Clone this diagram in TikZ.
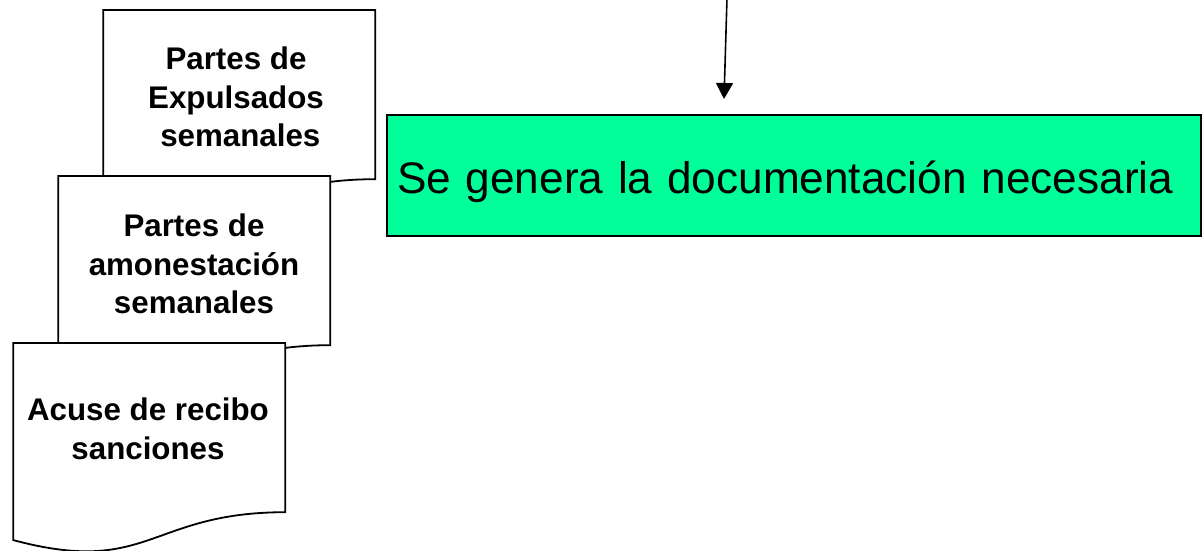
\documentclass[tikz,border=0pt]{standalone}
\usepackage{fontspec}
\setmainfont{Liberation Sans}
\usetikzlibrary{arrows.meta}
\definecolor{gengreen}{RGB}{0,255,153}
\tikzset{
  docshape/.style={draw=black, fill=white, line width=1.8pt, line join=miter},
  doctext/.style={align=center, inner sep=0pt, font=\fontsize{31.3}{38.5}\selectfont\bfseries},
  genbox/.style={draw=black, fill=gengreen, line width=1.8pt, inner xsep=10pt, inner ysep=0pt,
    text width=794pt, align=left, minimum height=121pt, text height=35pt, text depth=0pt,
    font=\fontsize{44.2}{50}\selectfont},
  flowarrow/.style={draw=black, line width=1.6pt, -{Triangle[length=16pt,width=17pt]}}
}
\newcommand{\docpath}[2]{% left x, top y ; w=272, h=211
  \path[docshape] (#1,#2) -- ({#1+272},#2) -- ({#1+272},{#2+169.2})
    .. controls ({#1+136},{#2+169.2}) and ({#1+136},{#2+233.6}) .. (#1,{#2+197.1}) -- cycle;}
\begin{document}
\begin{tikzpicture}[x=1pt,y=-1pt]
\useasboundingbox (0,0) rectangle (1202,550);
% documents (back to front)
\docpath{103.3}{10}
\node[doctext] (d1) at (236,96.9) {Partes de\\Expulsados\\\ semanales};
\docpath{58.3}{176}
\node[doctext] (d2) at (194,263.9) {Partes de\\amonestación\\semanales};
\docpath{13.3}{343}
\node[doctext] (d3) at (148,428.9) {Acuse de recibo\\sanciones};
% green process box
\node[genbox] (gen) at (794,175.5) {Se genera la documentación necesaria};
% arrow
\coordinate (atop) at (727,-2);
\coordinate (atip) at (724,99);
\draw[flowarrow] (atop) -- (atip);
\end{tikzpicture}
\end{document}
